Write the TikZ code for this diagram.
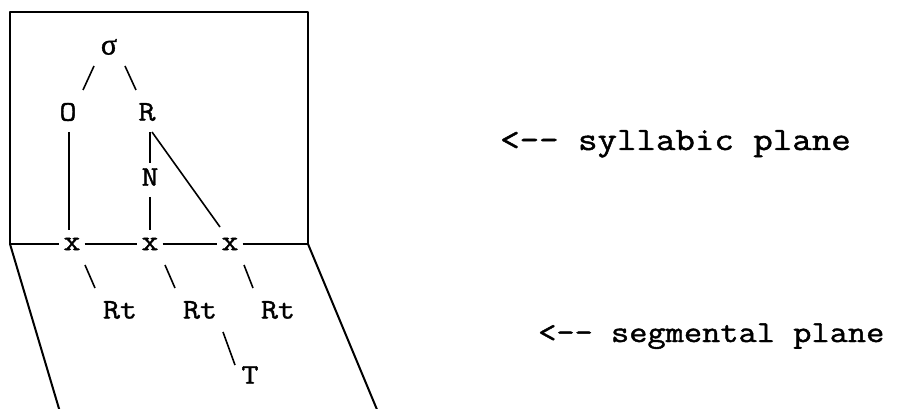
\documentclass[tikz,border=0pt]{standalone}
\usepackage{fontspec}
\setmonofont{Latin Modern Mono}[FakeBold=1.4, FakeStretch=1.16]
\newfontfamily\grk{Liberation Serif}[FakeBold=1.2]
\begin{document}
\begin{tikzpicture}[x=1pt,y=-1pt,
  lbl/.style={font=\ttfamily\fontsize{28.5}{30}\selectfont, inner sep=0pt},
  xnode/.style={font=\ttfamily\fontsize{28.5}{30}\selectfont, inner xsep=4pt, inner ysep=0pt},
  plane/.style={font=\ttfamily\fontsize{30.5}{33}\selectfont, inner sep=0pt, anchor=base west},
  conn/.style={line width=1.6pt},
  frame/.style={line width=2pt, line cap=round, line join=round}]
\useasboundingbox (0,0) rectangle (914,409);
% frame corners
\coordinate (tl) at (10,12);
\coordinate (tr) at (308,12);
\coordinate (ml) at (10,244);
\coordinate (mr) at (308,244);
\coordinate (bl) at (60,412);
\coordinate (br) at (378,412);
% nodes
\node[lbl] (sigma) at (109,47) {\grk\fontsize{30}{32}\selectfont σ};
\node[lbl] (O) at (68,112) {O};
\node[lbl] (R) at (147,112) {R};
\node[lbl] (N) at (150,177) {N};
\node[xnode] (x1) at (72,244) {x};
\node[xnode] (x2) at (150,244) {x};
\node[xnode] (x3) at (230,244) {x};
\node[lbl] (rt1) at (120,310) {Rt};
\node[lbl] (rt2) at (200,310) {Rt};
\node[lbl] (rt3) at (278,310) {Rt};
\node[lbl] (T) at (250,375) {T};
\node[plane, font=\ttfamily\fontsize{32.6}{34}\selectfont] (syl) at (500,150) {<\mbox{-}\mbox{-}~syllabic~plane};
\node[plane] (seg) at (538,342) {<\mbox{-}\mbox{-}~segmental~plane};
% frame
\draw[frame] (ml) -- (tl) -- (tr) -- (mr);
\draw[frame] (ml) -- (bl);
\draw[frame] (mr) -- (br);
\draw[conn] (ml) -- (x1.west);
\draw[conn] (x1.east) -- (x2.west);
\draw[conn] (x2.east) -- (x3.west);
\draw[conn] (x3.east) -- (mr);
% tree connectors
\draw[conn] ([shift={(-15,19)}]sigma.center) -- ([shift={(15,-22)}]O.center);
\draw[conn] ([shift={(16,19)}]sigma.center) -- ([shift={(-11,-22)}]R.center);
\draw[conn] ([shift={(1,20)}]O.center) -- ([shift={(-3,-14)}]x1.center);
\draw[conn] ([shift={(3,20)}]R.center) -- ([shift={(0,-14)}]N.center);
\draw[conn] ([shift={(0,20)}]N.center) -- ([shift={(0,-14)}]x2.center);
\draw[conn] ([shift={(5,20)}]R.center) -- ([shift={(-10,-17)}]x3.center);
\draw[conn] ([shift={(13,21)}]x1.center) -- ([shift={(-25,-22)}]rt1.center);
\draw[conn] ([shift={(15,21)}]x2.center) -- ([shift={(-25,-22)}]rt2.center);
\draw[conn] ([shift={(14,21)}]x3.center) -- ([shift={(-25,-22)}]rt3.center);
\draw[conn] ([shift={(23,22)}]rt2.center) -- ([shift={(-15,-10)}]T.center);
\end{tikzpicture}
\end{document}
